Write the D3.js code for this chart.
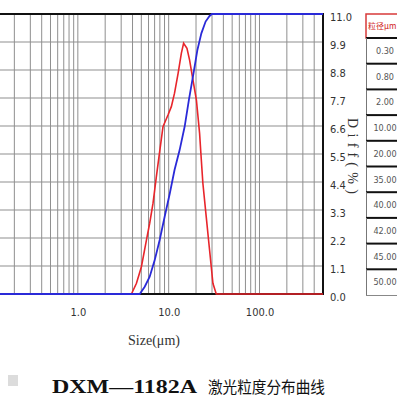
<!DOCTYPE html>
<html>
<head>
<meta charset="utf-8">
<script src="https://cdn.jsdelivr.net/npm/d3@7"></script>
<style>
  body { margin: 0; background: #fff; }
  svg { display: block; }
</style>
</head>
<body>
<svg id="chart" width="397" height="397"></svg>
<script>
// differential distribution (red), size in um vs Diff(%)
var diffSizes = [3.89, 4.42, 5.01, 5.69, 6.18, 6.72, 7.32, 7.82, 8.66, 9.83, 10.7, 11.6, 12.7, 13.8, 14.6,
                 15.9, 17.0, 18.5, 20.2, 21.9, 22.5, 23.8, 25.9, 28.2, 30.7, 33.4, 500];
var diffValues = [0.0, 0.42, 1.07, 2.12, 2.78, 3.56, 4.61, 5.39, 6.57, 7.03, 7.36, 7.89, 8.67, 9.46, 9.85,
                  9.65, 9.19, 8.41, 7.62, 6.31, 5.66, 4.35, 3.04, 1.73, 0.42, 0.0, 0.0];

// cumulative distribution (blue), size in um vs percent passing
var cumSizes = [0.1, 4.80, 5.45, 6.18, 7.02, 7.96, 9.03, 10.3, 11.6, 13.2, 15.0, 16.7, 18.5, 20.7, 22.9, 25.5, 28.2, 29.9, 500];
var cumValues = [0, 0, 2.6, 6.2, 12.1, 19.3, 27.6, 36.0, 44.3, 51.4, 59.8, 69.3, 77.6, 87.1, 93.1, 97.3, 99.3, 100, 100];

var yTicks = [0, 1.1, 2.2, 3.3, 4.4, 5.5, 6.6, 7.7, 8.8, 9.9, 11.0];
var xTicks = [1, 10, 100];
var tableHeader = "粒径μm";
var tableValues = ["0.30", "0.80", "2.00", "10.00", "20.00", "35.00", "40.00", "42.00", "45.00", "50.00"];
var titleModel = "DXM—1182A";
var titleText = "激光粒度分布曲线";

var svg = d3.select("#chart");
var narrow = "'Liberation Sans Narrow','DejaVu Sans Condensed',sans-serif";

var x = d3.scaleLog().domain([0.1, 500]).range([-13, 323]);
var y = d3.scaleLinear().domain([0, 11]).range([294, 14]);
var yPct = d3.scaleLinear().domain([0, 100]).range([294, 14]);

// grid lines at every log minor step
var gridX = [];
[0.1, 1, 10, 100].forEach(function (base) {
    for (var k = 1; k <= 9; ++k) {
        var v = base * k;
        if (v > 0.1 && v <= 500) gridX.push(v);
    }
});

svg.append("g").selectAll("line").data(gridX).enter().append("line")
    .attr("x1", function (d) { return x(d); })
    .attr("x2", function (d) { return x(d); })
    .attr("y1", y(11)).attr("y2", y(0))
    .attr("stroke", "#8f8f8f").attr("stroke-width", 1);

svg.append("g").selectAll("line").data(yTicks).enter().append("line")
    .attr("x1", 0).attr("x2", x(500))
    .attr("y1", function (d) { return y(d); })
    .attr("y2", function (d) { return y(d); })
    .attr("stroke", "#8f8f8f").attr("stroke-width", 1);

// frame
svg.append("line").attr("x1", 0).attr("x2", x(500) + 1).attr("y1", y(11)).attr("y2", y(11))
    .attr("stroke", "#111").attr("stroke-width", 2.2);
svg.append("line").attr("x1", 0).attr("x2", x(500) + 1).attr("y1", y(0)).attr("y2", y(0))
    .attr("stroke", "#111").attr("stroke-width", 2.2);
svg.append("line").attr("x1", x(500)).attr("x2", x(500)).attr("y1", y(11)).attr("y2", y(0))
    .attr("stroke", "#111").attr("stroke-width", 2);

// curves
var diffLine = d3.line()
    .x(function (d) { return x(d[0]); })
    .y(function (d) { return y(d[1]); });
var cumLine = d3.line()
    .x(function (d) { return x(d[0]); })
    .y(function (d) { return yPct(d[1]); });

svg.append("path")
    .datum(d3.zip(diffSizes, diffValues))
    .attr("d", diffLine)
    .attr("fill", "none").attr("stroke", "#e8252b").attr("stroke-width", 1.6);

svg.append("path")
    .datum(d3.zip(cumSizes, cumValues))
    .attr("d", cumLine)
    .attr("fill", "none").attr("stroke", "#2a2ad8").attr("stroke-width", 1.8);

// right axis
var yAxis = svg.append("g")
    .attr("transform", "translate(" + x(500) + ",0)")
    .call(d3.axisRight(y).tickValues(yTicks).tickSize(0).tickPadding(7).tickFormat(d3.format(".1f")));
yAxis.select(".domain").remove();
yAxis.selectAll("text")
    .attr("dy", "0.6em")
    .style("font-family", narrow).style("font-size", "11px").attr("fill", "#333");

// bottom axis labels
var xAxis = svg.append("g")
    .attr("transform", "translate(0," + y(0) + ")")
    .call(d3.axisBottom(x).tickValues(xTicks).tickSize(0).tickPadding(14).tickFormat(d3.format(".1f")));
xAxis.select(".domain").remove();
xAxis.selectAll("text")
    .style("font-family", narrow).style("font-size", "11px").attr("fill", "#333");

svg.append("text")
    .attr("x", 154).attr("y", 345)
    .attr("text-anchor", "middle")
    .attr("textLength", 52).attr("lengthAdjust", "spacingAndGlyphs")
    .style("font-family", "'Liberation Serif',serif").style("font-size", "14px").attr("fill", "#333")
    .text("Size(μm)");

svg.append("text")
    .attr("transform", "translate(348,156) rotate(90)")
    .attr("text-anchor", "middle")
    .attr("textLength", 76).attr("lengthAdjust", "spacing")
    .style("font-family", "'Liberation Serif',serif").style("font-size", "14px").attr("fill", "#333")
    .text("Diff(%)");

// side table
var rowBand = d3.scaleBand().domain(tableValues).range([38, 295]);
var table = svg.append("g");

table.append("rect")
    .attr("x", 366).attr("y", 14).attr("width", 40).attr("height", 24)
    .attr("fill", "#fff").attr("stroke", "#d83a3a").attr("stroke-width", 1.5);
table.append("text")
    .attr("x", 368).attr("y", 29)
    .style("font-family", "'Noto Sans CJK SC',sans-serif").style("font-size", "8px").attr("fill", "#d02020")
    .text(tableHeader);

var rows = table.selectAll("g.row").data(tableValues).enter().append("g").attr("class", "row");
rows.append("line")
    .attr("x1", 366).attr("x2", 397)
    .attr("y1", function (d) { return rowBand(d); })
    .attr("y2", function (d) { return rowBand(d); })
    .attr("stroke", "#111").attr("stroke-width", 2);
rows.append("line")
    .attr("x1", 366.5).attr("x2", 366.5)
    .attr("y1", function (d) { return rowBand(d); })
    .attr("y2", function (d) { return rowBand(d) + rowBand.bandwidth(); })
    .attr("stroke", "#777").attr("stroke-width", 1);
rows.append("text")
    .attr("x", 385)
    .attr("y", function (d) { return rowBand(d) + rowBand.bandwidth() / 2; })
    .attr("dy", "0.35em")
    .attr("text-anchor", "middle")
    .style("font-family", narrow).style("font-size", "9px").attr("fill", "#555")
    .text(function (d) { return d; });
table.append("line")
    .attr("x1", 366).attr("x2", 397).attr("y1", 295.5).attr("y2", 295.5)
    .attr("stroke", "#888").attr("stroke-width", 1);

// title
svg.append("rect").attr("x", 8).attr("y", 375).attr("width", 10).attr("height", 11).attr("fill", "#dcdcdc");
svg.append("text")
    .attr("x", 52).attr("y", 393)
    .attr("textLength", 145).attr("lengthAdjust", "spacingAndGlyphs")
    .style("font-family", "'Liberation Serif',serif").style("font-size", "18px").style("font-weight", "bold")
    .attr("fill", "#111")
    .text(titleModel);
svg.append("text")
    .attr("x", 208).attr("y", 393)
    .attr("textLength", 117).attr("lengthAdjust", "spacingAndGlyphs")
    .style("font-family", "'Noto Sans CJK SC',sans-serif").style("font-size", "16px")
    .attr("fill", "#111")
    .text(titleText);
</script>
</body>
</html>
